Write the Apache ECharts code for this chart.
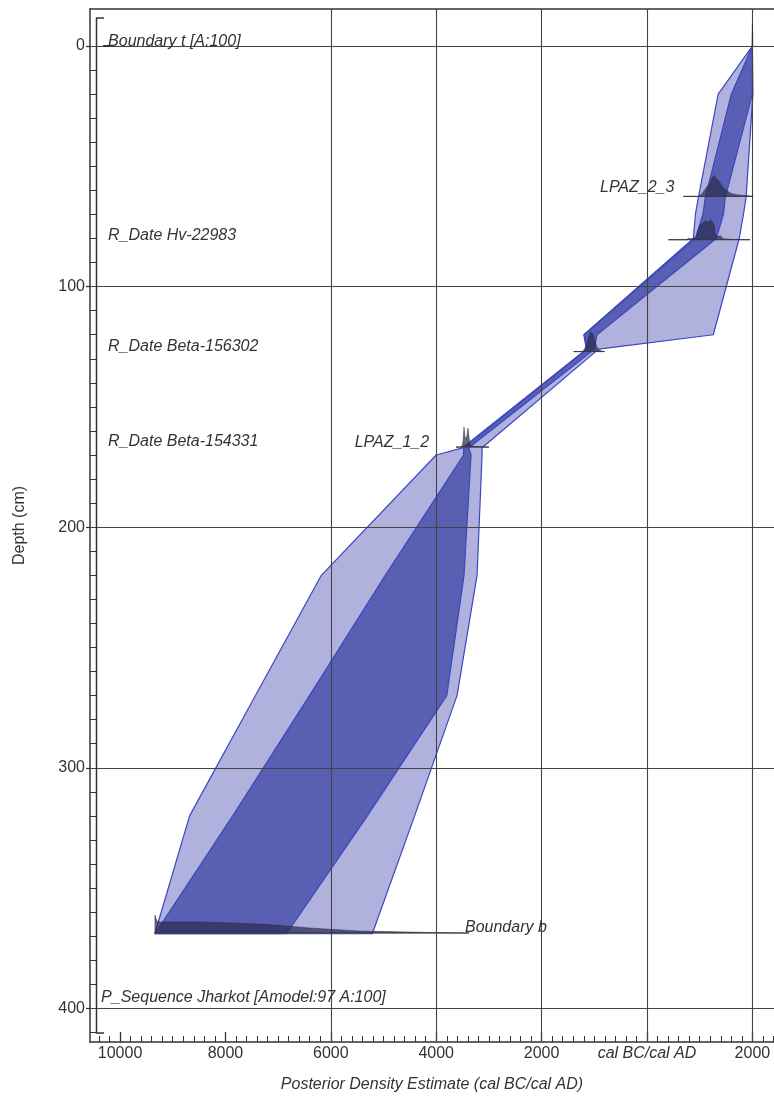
<!DOCTYPE html>
<html><head><meta charset="utf-8">
<script src="https://cdn.jsdelivr.net/npm/echarts@6.0.0/dist/echarts.min.js"></script>
<style>html,body{margin:0;padding:0;background:#fff}#c{width:774px;height:1099px}</style>
</head><body><div id="c"></div>
<script>
// ---------- DATA ----------
// depth (cm) of envelope vertices
const envDepths = [0, 20, 63, 70, 80, 120, 126, 167, 170, 220, 270, 320, 369];
// 95% range (cal years, negative = BC)
const old95   = [2000, 1350, 975, 918, 880, -1200, -1150, -3500, -4000, -6180, -7430, -8680, -9340];
const young95 = [2000, 2010, 1880, 1830, 1750, 1258, -918, -3130, -3130, -3225, -3605, -4410, -5213];
// 68% range
const old68   = [2000, 1600, 1106, 1060, 918, -1190, -1140, -3480, -3480, -4967, -6405, -7862, -9338];
const young68 = [2000, 2000, 1485, 1450, 1315, -950, -1000, -3380, -3340, -3472, -3800, -5307, -6840];

// probability distributions: [year, height (cm)]
const distBoundaryT = [[1990,0],[2000,9],[2010,0]];
const distLPAZ23 = [[690,0],[974,0],[1030,0.8],[1087,2.5],[1144,4.2],[1201,5.8],[1238,7.9],[1276,8.7],[1314,7.5],[1371,6.2],[1428,4.2],[1504,2.5],[1598,1.2],[1730,0.6],[1957,0.2],[2014,0]];
const distHv22983 = [[406,0],[747,0],[785,0.6],[823,0.4],[879,0.6],[936,1.2],[974,4.2],[1012,6.2],[1049,6.7],[1087,7.5],[1125,7.9],[1163,7.1],[1201,8.3],[1238,7.5],[1276,5.8],[1295,2.5],[1333,1.2],[1390,1.7],[1447,0.4],[1636,0.1],[1957,0]];
const distBeta156302 = [[-1391,0],[-1221,0],[-1183,1.2],[-1145,3.3],[-1107,6.2],[-1070,8.3],[-1032,7.5],[-994,5],[-956,2.1],[-918,0.8],[-862,0.2],[-805,0]];
const distLPAZ12 = [[-3624,0],[-3549,0],[-3511,0.4],[-3492,2.1],[-3473,8.3],[-3454,4.2],[-3435,3.3],[-3416,5],[-3397,7.9],[-3378,4.2],[-3359,1.2],[-3321,0.4],[-3264,0.2],[-2999,0]];
const distBoundaryB = [[-9338,0],[-9338,7.5],[-9300,5],[-9243,4.6],[-8865,4.6],[-8486,4.6],[-7862,4.2],[-7351,3.7],[-6840,2.9],[-6405,2.1],[-5970,1.5],[-5459,0.8],[-4924,0.6],[-4513,0.4],[-4078,0.2],[-3378,0]];
const distBaseDepths = [0, 62.5, 80.5, 127, 166.7, 368.7];
const distLineFrom = [1990, 690, 406, -1391, -3624, -9338];
const distLineTo   = [2010, 2014, 1957, -805, -2999, -3378];

// text labels
const labelTexts  = ['Boundary t [A:100]', 'R_Date Hv-22983', 'R_Date Beta-156302', 'R_Date Beta-154331', 'LPAZ_2_3', 'LPAZ_1_2', 'Boundary b', 'P_Sequence Jharkot [Amodel:97 A:100]'];
const labelYears  = [-10227, -10227, -10227, -10227, 520, -4135, -3454, -10359];
const labelDepths = [-1.7, 78.6, 125.1, 164.2, 59, 165, 366.6, 395.7];
const labelAlign  = ['left','left','left','left','right','right','left','left'];

// axis ticks
const xMajor = [-10000, -8000, -6000, -4000, -2000, 0, 2000];
const xGrid  = [-6000, -4000, -2000, 0, 2000];
const yMajor = [0, 100, 200, 300, 400];

// ---------- BUILD ----------
const FONT = '"Liberation Sans", Arial, sans-serif';
const xMinor = []; for (let v = -10400; v <= 2400; v += 200) xMinor.push(v);
const yMinor = []; for (let v = 0; v <= 410; v += 10) yMinor.push(v);

function envelope(older, younger) {
  const pts = [];
  for (let i = 0; i < envDepths.length; i++) pts.push([older[i], envDepths[i]]);
  for (let i = envDepths.length - 1; i >= 0; i--) pts.push([younger[i], envDepths[i]]);
  return pts;
}
const env95 = envelope(old95, young95);
const env68 = envelope(old68, young68);

function polySeries(pts, fill, stroke, z) {
  return {
    type: 'custom', coordinateSystem: 'cartesian2d', silent: true, z: z, data: [0],
    renderItem: (params, api) => ({
      type: 'polygon',
      shape: { points: pts.map(p => api.coord(p)) },
      style: { fill: fill, stroke: stroke, lineWidth: 1.2, lineJoin: 'round' }
    })
  };
}

const dists = [distBoundaryT, distLPAZ23, distHv22983, distBeta156302, distLPAZ12, distBoundaryB];
const distSeries = {
  type: 'custom', coordinateSystem: 'cartesian2d', silent: true, z: 5,
  data: dists.map((d, i) => i),
  renderItem: (params, api) => {
    const i = params.dataIndex;
    const base = distBaseDepths[i];
    const pts = dists[i].map(p => api.coord([p[0], base - p[1]]));
    const a = api.coord([distLineFrom[i], base]);
    const b = api.coord([distLineTo[i], base]);
    return {
      type: 'group',
      children: [
        { type: 'line', shape: { x1: a[0], y1: a[1], x2: b[0], y2: b[1] }, style: { stroke: '#555', lineWidth: 1 } },
        { type: 'polygon', shape: { points: pts }, style: { fill: 'rgba(45,45,80,0.72)', stroke: 'rgba(40,40,60,0.8)', lineWidth: 0.6 } }
      ]
    };
  }
};

const labelSeries = {
  type: 'custom', coordinateSystem: 'cartesian2d', silent: true, z: 10,
  data: labelTexts.map((t, i) => i),
  renderItem: (params, api) => {
    const i = params.dataIndex;
    const p = api.coord([labelYears[i], labelDepths[i]]);
    return {
      type: 'text', x: p[0], y: p[1],
      style: { text: labelTexts[i], fill: '#333', font: 'italic 16px ' + FONT, align: labelAlign[i], verticalAlign: 'middle' }
    };
  }
};

const gridSeries = {
  type: 'line', data: [], silent: true, z: 4,
  markLine: {
    silent: true, symbol: 'none', animation: false,
    label: { show: false },
    lineStyle: { color: '#444', width: 1.1, type: 'solid' },
    data: xGrid.map(v => ({ xAxis: v })).concat(yMajor.map(v => ({ yAxis: v })))
  }
};

const XMIN = -10570, XMAX = 2410, YMIN = -15.4, YMAX = 414;
const lineStyle = { color: '#333', width: 1.5 };
const option = {
  animation: false,
  backgroundColor: '#fff',
  grid: { left: 90, right: -2, top: 9, bottom: 57 },
  xAxis: [
    { type: 'value', min: XMIN, max: XMAX, position: 'bottom',
      axisLine: { show: true, onZero: false, lineStyle: lineStyle },
      axisTick: { show: true, inside: true, length: 6, customValues: xMinor, lineStyle: { color: '#333', width: 1 } },
      axisLabel: { show: false }, splitLine: { show: false } },
    { type: 'value', min: XMIN, max: XMAX, position: 'bottom',
      axisLine: { show: false, onZero: false },
      axisTick: { show: true, inside: true, length: 10, customValues: xMajor, lineStyle: { color: '#333', width: 1.3 } },
      axisLabel: { show: true, customValues: xMajor, margin: 4, color: '#333', fontSize: 16, fontFamily: FONT,
        formatter: v => v === 0 ? '{i|cal BC/cal AD}' : String(Math.abs(v)),
        rich: { i: { fontStyle: 'italic', fontSize: 16, fontFamily: FONT, color: '#333' } } },
      splitLine: { show: false },
      name: 'Posterior Density Estimate (cal BC/cal AD)', nameLocation: 'middle', nameGap: 35,
      nameTextStyle: { fontStyle: 'italic', fontSize: 16, fontFamily: FONT, color: '#333' } },
    { type: 'value', min: XMIN, max: XMAX, position: 'top',
      axisLine: { show: true, onZero: false, lineStyle: lineStyle }, axisTick: { show: false }, axisLabel: { show: false }, splitLine: { show: false } }
  ],
  yAxis: [
    { type: 'value', inverse: true, min: YMIN, max: YMAX, position: 'left',
      axisLine: { show: true, onZero: false, lineStyle: lineStyle },
      axisTick: { show: true, inside: true, length: 6, customValues: yMinor, lineStyle: { color: '#333', width: 1 } },
      axisLabel: { show: false }, splitLine: { show: false } },
    { type: 'value', inverse: true, min: YMIN, max: YMAX, position: 'left',
      axisLine: { show: false, onZero: false },
      axisTick: { show: true, inside: false, length: 4, customValues: yMajor, lineStyle: { color: '#333', width: 1.3 } },
      axisLabel: { show: true, customValues: yMajor, margin: 5, color: '#333', fontSize: 16, fontFamily: FONT },
      splitLine: { show: false },
      name: 'Depth (cm)', nameLocation: 'middle', nameGap: 62,
      nameTextStyle: { fontSize: 16, fontFamily: FONT, color: '#333' } }
  ],
  series: [
    polySeries(env95, 'rgba(100,100,190,0.5)', '#3a48c0', 2),
    polySeries(env68, 'rgba(30,40,150,0.6)', '#3a48c0', 3),
    gridSeries,
    distSeries,
    labelSeries
  ],
  graphic: [
    { type: 'polyline', z: 20, silent: true,
      shape: { points: [[104, 18], [96.5, 18], [96.5, 1033], [104, 1033]] },
      style: { stroke: '#333', lineWidth: 1.5, fill: null } },
    { type: 'line', z: 20, silent: true, shape: { x1: 103, y1: 46, x2: 109, y2: 46 }, style: { stroke: '#333', lineWidth: 2 } }
  ]
};
const chart = echarts.init(document.getElementById('c'), null, { renderer: 'canvas' });
chart.setOption(option);
</script>
</body></html>
